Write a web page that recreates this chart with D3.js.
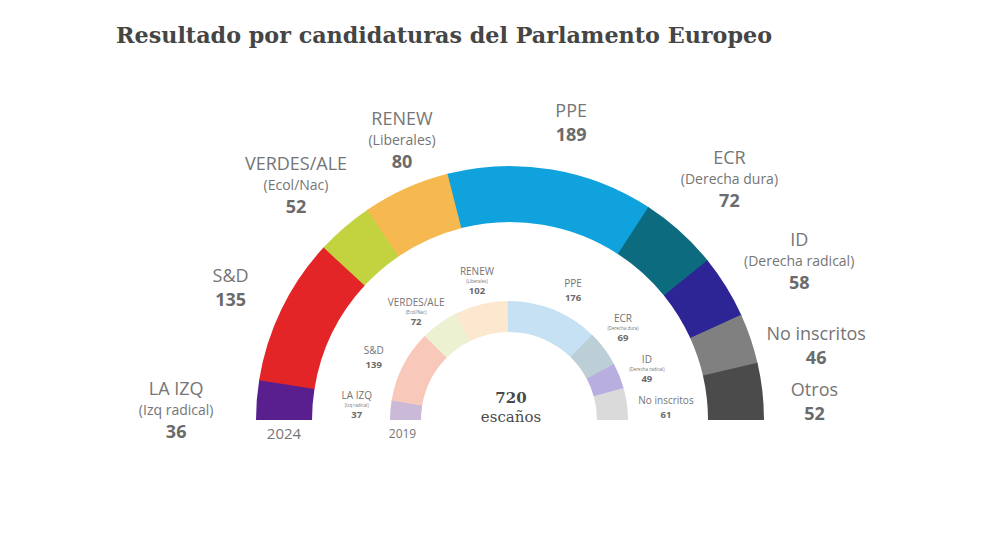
<!DOCTYPE html>
<html>
<head>
<meta charset="utf-8">
<script src="https://cdn.jsdelivr.net/npm/d3@7"></script>
<style>
  html, body { margin: 0; padding: 0; background: #fff; }
  svg { display: block; }
</style>
</head>
<body>
<svg id="chart" width="990" height="557"></svg>
<script>
// ---- Data ----
const parties2024 = ["LA IZQ", "S&D", "VERDES/ALE", "RENEW", "PPE", "ECR", "ID", "No inscritos", "Otros"];
const subtitles2024 = ["(Izq radical)", "", "(Ecol/Nac)", "(Liberales)", "", "(Derecha dura)", "(Derecha radical)", "", ""];
const seats2024 = [36, 135, 52, 80, 189, 72, 58, 46, 52];

const parties2019 = ["LA IZQ", "S&D", "VERDES/ALE", "RENEW", "PPE", "ECR", "ID", "No inscritos"];
const subtitles2019 = ["(Izq radical)", "", "(Ecol/Nac)", "(Liberales)", "", "(Derecha dura)", "(Derecha radical)", ""];
const seats2019 = [37, 139, 72, 102, 176, 69, 49, 61];

const totalSeats = 720;
const yearLabels = ["2024", "2019"];
const titleText = "Resultado por candidaturas del Parlamento Europeo";

// ---- Styles / layout ----
const colors2024 = ["#5a1f8e", "#e42528", "#c3d340", "#f6b94f", "#0fa2dd", "#0c6b7e", "#2d2495", "#808080", "#4b4b4b"];
const colors2019 = ["#cbb9d8", "#f8c9ba", "#ebf1d1", "#fce8cf", "#c6e1f4", "#bccfd6", "#b8afe0", "#dadada"];

const cx = 510, cy = 420;
const outerR = 254, outerr = 198;
const innerCx = 509, innerR = 119, innerr = 88;

// label polar placement: [angle in degrees from left horizontal, distance from center]
const outerLabelPolar = [[1.7, 334], [25.3, 309], [47.7, 318], [68.9, 300], [101.6, 304], [132.3, 326], [151.2, 330], [166.4, 315], [176.6, 305]];
const innerLabelPolar = [[5.6, 153], [24.8, 149], [49.3, 142.5], [77, 142.6], [116.3, 144.5], [141.1, 146.5], [159.7, 147], [175.4, 157.5]];

const svg = d3.select("#chart");

svg.append("text")
  .attr("x", 116).attr("y", 43)
  .attr("font-family", "'DejaVu Serif', serif")
  .attr("font-weight", "bold")
  .attr("font-size", 22)
  .attr("fill", "#454545")
  .attr("textLength", 656)
  .attr("lengthAdjust", "spacingAndGlyphs")
  .text(titleText);

function drawRing(values, colors, centerX, R, r) {
  const total = d3.sum(values);
  const ang = d3.scaleLinear().domain([0, total]).range([-Math.PI / 2, Math.PI / 2]);
  const cum = d3.cumsum(values);
  const arc = d3.arc().innerRadius(r).outerRadius(R);
  const g = svg.append("g").attr("transform", `translate(${centerX},${cy})`);
  g.selectAll("path").data(values).join("path")
    .attr("d", (d, i) => arc({ startAngle: ang(cum[i] - d), endAngle: ang(cum[i]) + (i < values.length - 1 ? 0.004 : 0) }))
    .attr("fill", (d, i) => colors[i]);
}

drawRing(seats2024, colors2024, cx, outerR, outerr);
drawRing(seats2019, colors2019, innerCx, innerR, innerr);

function polar(centerX, a, dist) {
  const rad = a * Math.PI / 180;
  return [centerX - dist * Math.cos(rad), cy - dist * Math.sin(rad)];
}

function drawLabels(names, subs, vals, polarPos, centerX, sz) {
  names.forEach((name, i) => {
    const [x, y] = polar(centerX, polarPos[i][0], polarPos[i][1]);
    const lines = [{ t: name, s: sz.name, w: "normal", gap: 0 }];
    if (subs[i]) lines.push({ t: subs[i], s: sz.sub, w: "normal", gap: sz.g1 });
    lines.push({ t: String(vals[i]), s: sz.num, w: "bold", gap: subs[i] ? sz.g2 : sz.g3 });
    let off = 0;
    lines.forEach(l => { off += l.gap; l.off = off; });
    const shift = off / 2;
    const g = svg.append("g").attr("transform", `translate(${x},${y - shift})`);
    lines.forEach(l => {
      g.append("text")
        .attr("x", 0).attr("y", l.off)
        .attr("dy", "0.36em")
        .attr("text-anchor", "middle")
        .attr("font-family", "'Open Sans', sans-serif")
        .attr("font-size", l.s)
        .attr("font-weight", l.w)
        .attr("fill", l.w === "bold" ? "#6b6b6b" : "#757575")
        .text(l.t);
    });
  });
}

drawLabels(parties2024, subtitles2024, seats2024, outerLabelPolar, cx,
  { name: 18, sub: 14, num: 18, g1: 21.5, g2: 22, g3: 24 });
drawLabels(parties2019, subtitles2019, seats2019, innerLabelPolar, innerCx,
  { name: 10, sub: 4.5, num: 9.5, g1: 9.6, g2: 9.6, g3: 13.5 });

// year labels
svg.append("text")
  .attr("x", cx - (outerR + outerr) / 2).attr("y", 434).attr("dy", "0.36em")
  .attr("text-anchor", "middle")
  .attr("font-family", "'Open Sans', sans-serif").attr("font-size", 15)
  .attr("fill", "#757575").text(yearLabels[0]);
svg.append("text")
  .attr("x", innerCx - (innerR + innerr) / 2 - 3).attr("y", 434).attr("dy", "0.36em")
  .attr("text-anchor", "middle")
  .attr("font-family", "'Open Sans', sans-serif").attr("font-size", 12)
  .attr("fill", "#757575").text(yearLabels[1]);

// center text
svg.append("text")
  .attr("x", 511).attr("y", 398).attr("dy", "0.36em")
  .attr("text-anchor", "middle")
  .attr("font-family", "'DejaVu Serif', serif").attr("font-weight", "bold")
  .attr("font-size", 15).attr("fill", "#4a4a4a")
  .text(totalSeats);
svg.append("text")
  .attr("x", 511).attr("y", 417).attr("dy", "0.36em")
  .attr("text-anchor", "middle")
  .attr("font-family", "'DejaVu Serif', serif")
  .attr("font-size", 15).attr("fill", "#4a4a4a")
  .text("escaños");
</script>
</body>
</html>
